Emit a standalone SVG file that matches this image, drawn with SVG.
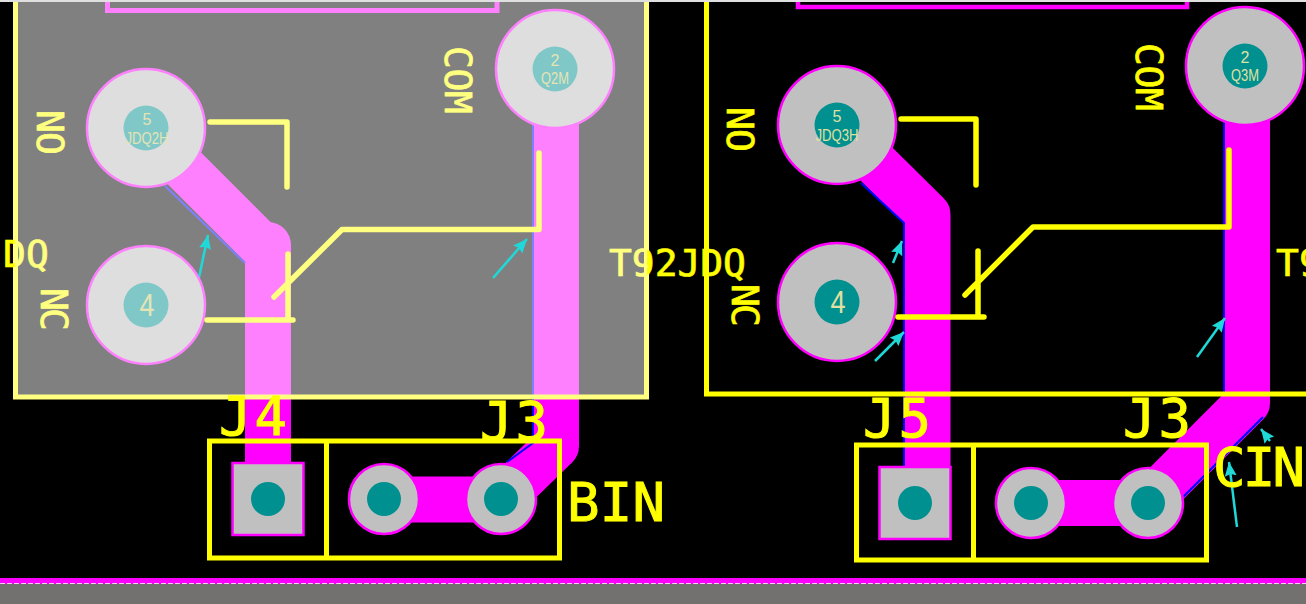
<svg xmlns="http://www.w3.org/2000/svg" width="1306" height="604" viewBox="0 0 1306 604">
<style>
.tr{fill:none;stroke-width:46;stroke-linejoin:round}
.edge{fill:none;stroke-width:2}
.silk{fill:none;stroke-width:5.5;stroke-linecap:round;stroke-linejoin:round}
.pale{stroke:#ffff80}
.full{stroke:#ffff00}
.lab{font-family:"DejaVu Sans Mono","Liberation Mono",monospace;font-size:38px;stroke-width:.7}
.big{font-family:"DejaVu Sans Mono","Liberation Mono",monospace;font-size:54px;fill:#ffff00;stroke:#ffff00;stroke-width:1}
.pin{font-family:"Liberation Sans",Arial,sans-serif;font-size:16px;text-anchor:middle}
.arr{fill:none;stroke:#20d8d8;stroke-width:2.5;marker-end:url(#ah)}
.bigpad{stroke-width:2.5}
.l .bigpad{fill:#dedede;stroke:#ff80ff}
.r .bigpad,.low .bigpad{fill:#c0c0c0;stroke:#ff00ff}
.l .hole{fill:#80c8c8}
.r .hole,.low .hole{fill:#009090}
.l .pin{fill:#e4e4b4}
.r .pin{fill:#e0e0a0}
</style>
<defs>
<marker id="ah" markerUnits="userSpaceOnUse" markerWidth="15" markerHeight="14" refX="14" refY="7" orient="auto"><path d="M0 1L14 7L0 13L2 7Z" fill="#20d8d8"/></marker>
<linearGradient id="trL" gradientUnits="userSpaceOnUse" x1="0" y1="0" x2="0" y2="604"><stop offset="0.6573" stop-color="#ff80ff"/><stop offset="0.6573" stop-color="#ff00ff"/></linearGradient>
<linearGradient id="tT" gradientUnits="userSpaceOnUse" x1="0" y1="0" x2="1306" y2="0"><stop offset="0.4954" stop-color="#ffff80"/><stop offset="0.4954" stop-color="#ffff00"/></linearGradient>
<linearGradient id="tD" gradientUnits="userSpaceOnUse" x1="0" y1="0" x2="1306" y2="0"><stop offset="0.0115" stop-color="#ffff00"/><stop offset="0.0115" stop-color="#ffff80"/></linearGradient>
</defs>
<rect width="1306" height="604" fill="#000"/>
<rect x="15.5" y="2" width="631" height="395" fill="#808080"/>
<rect width="1306" height="2" fill="#e0e0e0"/>
<g id="connectors">
<path class="tr" stroke="#ff80ff" d="M146 130L268 252"/>
<path class="tr" stroke="url(#trL)" stroke-linecap="round" d="M268 245V480"/>
<path class="tr" stroke="url(#trL)" d="M556 69V446L501 499.500H384"/>
<path class="tr" stroke="#ff00ff" d="M837 125L927.500 214.500V503"/>
<path class="tr" stroke="#ff00ff" d="M1247 66V403L1147 503H1031"/>
<path class="edge" stroke="#8080ff" d="M165 186L245 263"/>
<path class="edge" stroke="#8080ff" d="M533 125V397"/>
<path class="edge" stroke="#0000ff" d="M533 397V443L507 462"/>
<path class="edge" stroke="#0000ff" d="M861 183L904 223V500"/>
<path class="edge" stroke="#0000ff" d="M1224 120V394M1263 417L1183 497"/>
<path class="arr" d="M198 282L208 235"/>
<path class="arr" d="M493 278L527 239"/>
<path class="arr" d="M893 263L902 241"/>
<path class="arr" d="M875 361L904 332"/>
<path class="arr" d="M1197 357L1225 318"/>
<path class="arr" d="M1237 527L1229 462"/>
<path class="arr" d="M1270 441L1261 429"/>
</g>
<g id="left-module" class="l">
<path fill="none" stroke="#ff80ff" stroke-width="5" d="M107.500 2V10.500H497V2"/>
<g id="JDQ2-5"><circle class="bigpad" cx="146" cy="128" r="59"/><circle class="hole" cx="146" cy="128" r="22.500"/><text class="pin" x="147" y="125">5</text><text class="pin" x="147" y="144" textLength="43" lengthAdjust="spacingAndGlyphs">JDQ2H</text></g>
<g id="JDQ2-4"><circle class="bigpad" cx="146" cy="305" r="59"/><circle class="hole" cx="146" cy="305" r="22.500"/><text class="pin" x="147" y="316" style="font-size:32px" textLength="15" lengthAdjust="spacingAndGlyphs">4</text></g>
<g id="JDQ2-2"><circle class="bigpad" cx="555" cy="69" r="59"/><circle class="hole" cx="555" cy="69" r="22.500"/><text class="pin" x="555" y="66">2</text><text class="pin" x="555" y="84" textLength="28" lengthAdjust="spacingAndGlyphs">Q2M</text></g>
<path class="silk pale" d="M210 122H287V187M207 320H293M288 254V320M274 297L342 229.500H539V153"/>
<path d="M15.500 2V397H646.500V2" fill="none" stroke="#ffff80" stroke-width="5"/>
<text class="lab" fill="#ffff80" stroke="#ffff80" transform="translate(37 110) rotate(90)" textLength="45">NO</text>
<text class="lab" fill="#ffff80" stroke="#ffff80" transform="translate(41 288) rotate(90)" textLength="43">NC</text>
<text class="lab" fill="#ffff80" stroke="#ffff80" transform="translate(445 46) rotate(90)" textLength="68">COM</text>
<text class="lab" fill="url(#tT)" stroke="url(#tT)" x="609" y="276" textLength="137">T92JDQ</text>
<text class="lab" fill="url(#tD)" stroke="url(#tD)" x="3" y="267">DQ</text>
</g>
<g id="right-module" class="r">
<path fill="none" stroke="#ff00ff" stroke-width="4.500" d="M798 2V7H1187V2"/>
<g id="JDQ3-5"><circle class="bigpad" cx="837" cy="125" r="59"/><circle class="hole" cx="837" cy="125" r="22.500"/><text class="pin" x="837" y="122">5</text><text class="pin" x="837" y="141" textLength="43" lengthAdjust="spacingAndGlyphs">JDQ3H</text></g>
<g id="JDQ3-4"><circle class="bigpad" cx="837" cy="302" r="59"/><circle class="hole" cx="837" cy="302" r="22.500"/><text class="pin" x="838" y="313" style="font-size:32px" textLength="15" lengthAdjust="spacingAndGlyphs">4</text></g>
<g id="JDQ3-2"><circle class="bigpad" cx="1245" cy="66" r="59"/><circle class="hole" cx="1245" cy="66" r="22.500"/><text class="pin" x="1245" y="63">2</text><text class="pin" x="1245" y="81" textLength="28" lengthAdjust="spacingAndGlyphs">Q3M</text></g>
<path class="silk full" d="M901 119H976V185M898 317H984M978 251V317M965 295L1033 227H1229V150"/>
<path fill="none" stroke="#ffff00" stroke-width="5" d="M706.500 2V394H1306"/>
<text class="lab" fill="#ffff00" stroke="#ffff00" transform="translate(727 107) rotate(90)" textLength="45">NO</text>
<text class="lab" fill="#ffff00" stroke="#ffff00" transform="translate(732 284) rotate(90)" textLength="43">NC</text>
<text class="lab" fill="#ffff00" stroke="#ffff00" transform="translate(1136 43) rotate(90)" textLength="68">COM</text>
<text class="lab" fill="#ffff00" stroke="#ffff00" x="1276" y="276">T9</text>
</g>
<g id="J4-J3-left" class="low">
<rect class="bigpad" x="232.500" y="463" width="71" height="72"/><circle class="hole" cx="268" cy="499" r="17"/>
<g id="J3-left-1"><circle class="bigpad" cx="384" cy="499" r="35"/><circle class="hole" cx="384" cy="499" r="17"/></g>
<g id="J3-left-2"><circle class="bigpad" cx="501" cy="499" r="35"/><circle class="hole" cx="501" cy="499" r="17"/></g>
<path fill="none" stroke="#ffff00" stroke-width="5" d="M209.500 441H559.500V558H209.500ZM326.500 441V558"/>
<text class="big" x="219" y="435" textLength="68">J4</text>
<text class="big" x="480" y="440" textLength="68">J3</text>
<text class="big" x="567" y="521" textLength="98">BIN</text>
</g>
<g id="J5-J3-right" class="low">
<rect class="bigpad" x="879.500" y="467" width="71" height="72"/><circle class="hole" cx="915" cy="503" r="17"/>
<g id="J3-right-1"><circle class="bigpad" cx="1031" cy="503" r="35"/><circle class="hole" cx="1031" cy="503" r="17"/></g>
<g id="J3-right-2"><circle class="bigpad" cx="1148" cy="503" r="35"/><circle class="hole" cx="1148" cy="503" r="17"/></g>
<path fill="none" stroke="#ffff00" stroke-width="5" d="M856.500 445H1206.500V560H856.500ZM973.500 445V560"/>
<text class="big" x="863" y="437" textLength="68">J5</text>
<text class="big" x="1123" y="437" textLength="68">J3</text>
<text class="big" x="1213" y="486" textLength="92">CIN</text>
</g>
<rect y="578" width="1306" height="6" fill="#ff00ff"/>
<path d="M0 583.500H1306" stroke="#ffd0ff" stroke-dasharray="5 2"/>
<rect y="584" width="1306" height="20" fill="#737070"/>
</svg>
